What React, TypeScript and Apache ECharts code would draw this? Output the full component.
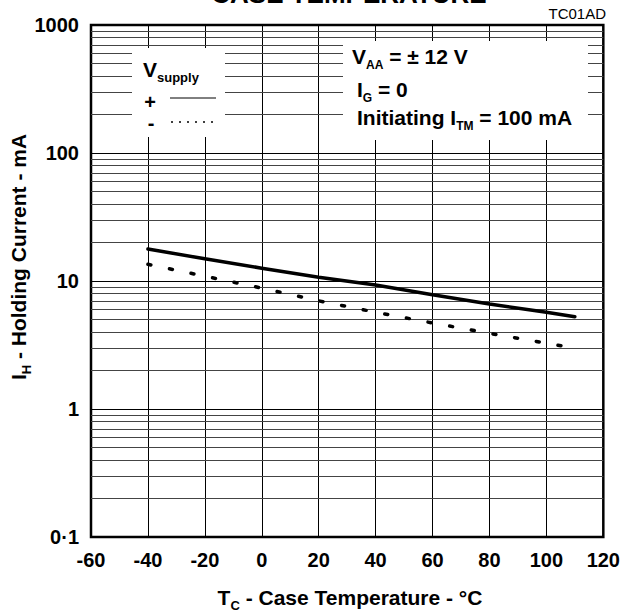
import React, { useEffect, useRef } from "react";
import * as echarts from "echarts";

const TEMPS = [-40, -20, 0, 20, 40, 60, 80, 100, 110];
const IH_PLUS = [17.8, 14.9, 12.6, 10.7, 9.3, 7.8, 6.6, 5.7, 5.25];
const IH_MINUS = [13.5, 10.9, 8.8, 7.0, 5.7, 4.7, 3.9, 3.27, 2.98];
const X_TICKS = [-60, -40, -20, 0, 20, 40, 60, 80, 100, 120];
const Y_TICK_LABELS: Record<string, string> = {
  "0.1": "0·1",
  "1": "1",
  "10": "10",
  "100": "100",
  "1000": "1000",
};
const DECADES = [0.1, 1, 10, 100];
const MINOR_MULTIPLIERS = [2, 3, 4, 5, 6, 7, 8, 9];

const FONT = '"Liberation Sans", Arial, Helvetica, sans-serif';

export default function App() {
  const ref = useRef<HTMLDivElement>(null);

  useEffect(() => {
    document.body.style.margin = "0";
    if (!ref.current) return;
    const chart = echarts.init(ref.current, undefined, { renderer: "svg" });

    const minorLines: any[] = [];
    DECADES.forEach((d) =>
      MINOR_MULTIPLIERS.forEach((m) => minorLines.push({ yAxis: +(d * m).toPrecision(3) }))
    );

    const sub = (size: number) => ({
      fontSize: size,
      fontWeight: "bold",
      fontFamily: FONT,
      fill: "#000",
      lineHeight: 10,
      verticalAlign: "bottom",
    });
    const main = (size: number) => ({
      fontSize: size,
      fontWeight: "bold",
      fontFamily: FONT,
      fill: "#000",
      lineHeight: 30,
      verticalAlign: "middle",
    });

    const option: any = {
      animation: false,
      backgroundColor: "#fff",
      grid: {
        left: 91,
        right: 19,
        top: 25,
        bottom: 78,
        show: true,
        borderColor: "#000",
        borderWidth: 2.5,
        backgroundColor: "transparent",
      },
      xAxis: {
        type: "value",
        min: -60,
        max: 120,
        interval: 20,
        axisLine: { show: false },
        axisTick: { show: false },
        splitLine: { show: true, lineStyle: { color: "#000", width: 1 } },
        axisLabel: {
          margin: 13,
          fontSize: 20,
          fontWeight: "bold",
          fontFamily: FONT,
          color: "#000",
          formatter: (v: number) => (X_TICKS.includes(v) ? String(v) : ""),
        },
      },
      yAxis: {
        type: "log",
        logBase: 10,
        min: 0.1,
        max: 1000,
        axisLine: { show: false },
        axisTick: { show: false },
        splitLine: { show: true, lineStyle: { color: "#000", width: 1 } },
        axisLabel: {
          margin: 12,
          fontSize: 20,
          fontWeight: "bold",
          fontFamily: FONT,
          color: "#000",
          formatter: (v: number) => Y_TICK_LABELS[String(+v.toPrecision(3))] ?? "",
        },
      },
      series: [
        {
          name: "+",
          type: "line",
          data: TEMPS.map((t, i) => [t, IH_PLUS[i]]),
          symbol: "none",
          z: 3,
          lineStyle: { color: "#000", width: 3.5, type: "solid", cap: "round" },
        },
        {
          name: "-",
          type: "line",
          data: TEMPS.map((t, i) => [t, IH_MINUS[i]]),
          symbol: "none",
          z: 3,
          lineStyle: { color: "#000", width: 3.5, type: [3, 19], cap: "round" },
          markLine: {
            silent: true,
            z: 1,
            symbol: "none",
            label: { show: false },
            lineStyle: { color: "#444", width: 1, type: "solid" },
            data: minorLines,
          },
        },
      ],
      graphic: [
        // white boxes
        { type: "rect", z: 100, shape: { x: 132, y: 48, width: 93, height: 89 }, style: { fill: "#fff" } },
        { type: "rect", z: 100, shape: { x: 343, y: 41, width: 245, height: 99 }, style: { fill: "#fff" } },
        // title (cut off at the top, as in the reference)
        {
          type: "text",
          z: 101,
          style: {
            x: 349,
            y: -6,
            text: "CASE TEMPERATURE",
            align: "center",
            verticalAlign: "middle",
            fontSize: 26,
            fontWeight: "bold",
            fontFamily: FONT,
            fill: "#000",
          },
        },
        {
          type: "text",
          z: 101,
          style: {
            x: 606,
            y: 13,
            text: "TC01AD",
            align: "right",
            verticalAlign: "middle",
            fontSize: 15,
            fontFamily: FONT,
            fill: "#000",
          },
        },
        // legend
        {
          type: "text",
          z: 101,
          style: {
            x: 143,
            y: 69,
            text: "{m|V}{s|supply}",
            align: "left",
            verticalAlign: "middle",
            rich: { m: main(21), s: sub(13) },
          },
        },
        {
          type: "text",
          z: 101,
          style: {
            x: 150,
            y: 102,
            text: "+",
            align: "center",
            verticalAlign: "middle",
            fontSize: 20,
            fontWeight: "bold",
            fontFamily: FONT,
            fill: "#000",
          },
        },
        {
          type: "text",
          z: 101,
          style: {
            x: 151,
            y: 123,
            text: "-",
            align: "center",
            verticalAlign: "middle",
            fontSize: 20,
            fontWeight: "bold",
            fontFamily: FONT,
            fill: "#000",
          },
        },
        {
          type: "line",
          z: 101,
          shape: { x1: 170, y1: 98, x2: 216, y2: 98 },
          style: { stroke: "#000", lineWidth: 1 },
        },
        {
          type: "line",
          z: 101,
          shape: { x1: 171, y1: 122, x2: 216, y2: 122 },
          style: { stroke: "#000", lineWidth: 1.5, lineDash: [2, 6] },
        },
        // annotation
        {
          type: "text",
          z: 101,
          style: {
            x: 352,
            y: 56,
            text: "{m|V}{s|AA}{m| = ± 12 V}",
            align: "left",
            verticalAlign: "middle",
            rich: { m: main(21), s: sub(12) },
          },
        },
        {
          type: "text",
          z: 101,
          style: {
            x: 357,
            y: 89,
            text: "{m|I}{s|G}{m| = 0}",
            align: "left",
            verticalAlign: "middle",
            rich: { m: main(21), s: sub(12) },
          },
        },
        {
          type: "text",
          z: 101,
          style: {
            x: 357,
            y: 117,
            text: "{m|Initiating I}{s|TM}{m| = 100 mA}",
            align: "left",
            verticalAlign: "middle",
            rich: { m: main(21), s: sub(12) },
          },
        },
        // axis titles
        {
          type: "text",
          z: 101,
          x: 18,
          y: 257,
          rotation: Math.PI / 2,
          style: {
            x: 0,
            y: 0,
            text: "{m|I}{s|H}{m| - Holding Current - mA}",
            align: "center",
            verticalAlign: "middle",
            rich: { m: main(21), s: sub(13) },
          },
        },
        {
          type: "text",
          z: 101,
          style: {
            x: 350,
            y: 597,
            text: "{m|T}{s|C}{m| - Case Temperature - °C}",
            align: "center",
            verticalAlign: "middle",
            rich: { m: main(21), s: sub(13) },
          },
        },
      ],
    };

    chart.setOption(option);
    return () => chart.dispose();
  }, []);

  return <div ref={ref} style={{ width: 623, height: 615 }} />;
}
